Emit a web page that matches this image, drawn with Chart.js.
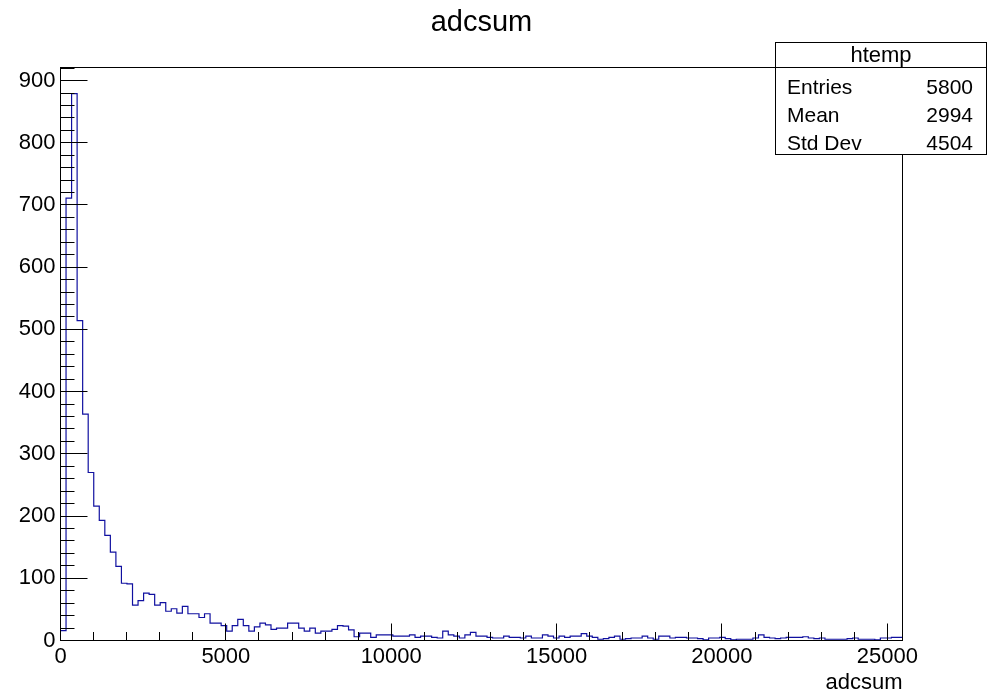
<!DOCTYPE html>
<html>
<head>
<meta charset="utf-8">
<title>adcsum</title>
<script src="https://cdn.jsdelivr.net/npm/chart.js@4.4.1/dist/chart.umd.min.js"></script>
<style>
  html, body { margin: 0; padding: 0; background: #fff; }
  #wrap { width: 990px; height: 692px; }
</style>
</head>
<body>
<div id="wrap"><canvas id="hist" width="990" height="692"></canvas></div>
<script>
// histogram binning
const binLow = 0;
const binWidth = 167.5;
const binCounts = [
  16, 711, 879, 514, 364, 270, 216, 193, 169, 142,
  119, 92, 91, 57, 64, 76, 74, 57, 61, 47,
  51, 44, 55, 43, 43, 37, 43, 28, 28, 24,
  15, 24, 34, 24, 15, 22, 28, 25, 18, 20,
  20, 28, 28, 20, 15, 20, 12, 15, 15, 18,
  24, 23, 17, 6, 12, 12, 5, 9, 9, 9,
  7, 7, 7, 9, 5, 7, 7, 5, 4, 15,
  9, 7, 4, 9, 13, 7, 7, 5, 4, 4,
  7, 5, 5, 4, 7, 4, 4, 9, 7, 4,
  7, 5, 7, 7, 11, 7, 5, 2, 3, 5,
  7, 2, 3, 4, 4, 7, 4, 2, 7, 7,
  4, 5, 5, 4, 4, 3, 1, 4, 4, 5,
  3, 1, 2, 2, 2, 4, 9, 5, 4, 3,
  4, 5, 5, 5, 6, 4, 3, 4, 2, 2,
  2, 2, 3, 4, 2, 2, 2, 1, 4, 4,
  5, 5
];
const xTickValues = [0, 5000, 10000, 15000, 20000, 25000];
const yTickValues = [0, 100, 200, 300, 400, 500, 600, 700, 800, 900];
const yMax = 921;
const histName = 'htemp';
const statNames = ['Entries', 'Mean', 'Std Dev'];
const statValues = ['5800', '2994', '4504'];
const titleText = 'adcsum';
const xTitle = 'adcsum';

const FONT = '"Liberation Sans", Arial, Helvetica, sans-serif';
const xMax = binLow + binCounts.length * binWidth;

// one point per low bin edge, plus the upper edge of the last bin
const points = binCounts.map((c, i) => ({ x: binLow + i * binWidth, y: c }));
points.push({ x: xMax, y: binCounts[binCounts.length - 1] });

// ROOT style frame, inner ticks, title and stats box
const rootFrame = {
    id: 'rootFrame',
    afterDatasetsDraw(chart) {
        const { ctx, chartArea: a, scales: { x, y } } = chart;
        const crisp = v => Math.round(v - 0.5) + 0.5;
        ctx.save();
        ctx.strokeStyle = '#000';
        ctx.lineWidth = 1;
        ctx.beginPath();
        // x ticks: 5 divisions between labelled ticks
        const xStep = (xTickValues[1] - xTickValues[0]) / 5;
        for (let v = xTickValues[0]; v <= x.max; v += xStep) {
            const px = crisp(x.getPixelForValue(v));
            const len = xTickValues.includes(v) ? 17 : 8.5;
            ctx.moveTo(px, a.bottom);
            ctx.lineTo(px, a.bottom - len);
        }
        const yStep = (yTickValues[1] - yTickValues[0]) / 5;
        for (let v = yTickValues[0]; v <= y.max; v += yStep) {
            const py = crisp(y.getPixelForValue(v));
            const len = yTickValues.includes(v) ? 27 : 14;
            ctx.moveTo(a.left, py);
            ctx.lineTo(a.left + len, py);
        }
        ctx.stroke();
        ctx.strokeRect(a.left, a.top, a.right - a.left, a.bottom - a.top);

        ctx.fillStyle = '#000';
        ctx.textBaseline = 'alphabetic';
        // title
        ctx.font = '29px ' + FONT;
        ctx.textAlign = 'center';
        ctx.fillText(titleText, (a.left + a.right) / 2, 31);
        // x axis title
        ctx.font = '22px ' + FONT;
        ctx.textAlign = 'right';
        ctx.fillText(xTitle, a.right, 689);

        // stats box
        const bx = 775.5, by = 42.5, bw = 211, bh = 112;
        ctx.fillStyle = '#fff';
        ctx.fillRect(bx, by, bw, bh);
        ctx.strokeRect(bx, by, bw, bh);
        ctx.beginPath();
        ctx.moveTo(bx, 67.5);
        ctx.lineTo(bx + bw, 67.5);
        ctx.stroke();
        ctx.fillStyle = '#000';
        ctx.font = '22px ' + FONT;
        ctx.textAlign = 'center';
        ctx.fillText(histName, bx + bw / 2, 62);
        ctx.font = '21px ' + FONT;
        const rows = [94, 122, 150];
        statNames.forEach((name, i) => {
            ctx.textAlign = 'left';
            ctx.fillText(name, 787, rows[i]);
            ctx.textAlign = 'right';
            ctx.fillText(statValues[i], 973, rows[i]);
        });
        ctx.restore();
    }
};

const ctx = document.getElementById('hist').getContext('2d');
new Chart(ctx, {
    type: 'line',
    data: {
        datasets: [{
            label: histName,
            data: points,
            stepped: 'before',
            borderColor: '#1010a0',
            borderWidth: 1.2,
            pointRadius: 0,
            fill: false
        }]
    },
    options: {
        responsive: false,
        animation: false,
        devicePixelRatio: 1,
        layout: { padding: { left: 0, top: 67.5, right: 87.5, bottom: 0 } },
        plugins: {
            legend: { display: false },
            title: { display: false },
            tooltip: { enabled: false }
        },
        scales: {
            x: {
                type: 'linear',
                min: binLow,
                max: xMax,
                grid: { display: false, drawTicks: false },
                border: { display: false },
                ticks: {
                    color: '#000',
                    font: { family: FONT, size: 22 },
                    padding: 3,
                    maxRotation: 0,
                    autoSkip: false,
                    includeBounds: false,
                    callback: v => String(v)
                },
                afterBuildTicks: s => { s.ticks = xTickValues.map(v => ({ value: v })); },
                afterFit: s => { s.height = 51.5; }
            },
            y: {
                type: 'linear',
                min: 0,
                max: yMax,
                grid: { display: false, drawTicks: false },
                border: { display: false },
                ticks: {
                    color: '#000',
                    font: { family: FONT, size: 22 },
                    padding: 5,
                    autoSkip: false,
                    includeBounds: false,
                    callback: v => String(v)
                },
                afterBuildTicks: s => { s.ticks = yTickValues.map(v => ({ value: v })); },
                afterFit: s => { s.width = 60.5; }
            }
        }
    },
    plugins: [rootFrame]
});
</script>
</body>
</html>
